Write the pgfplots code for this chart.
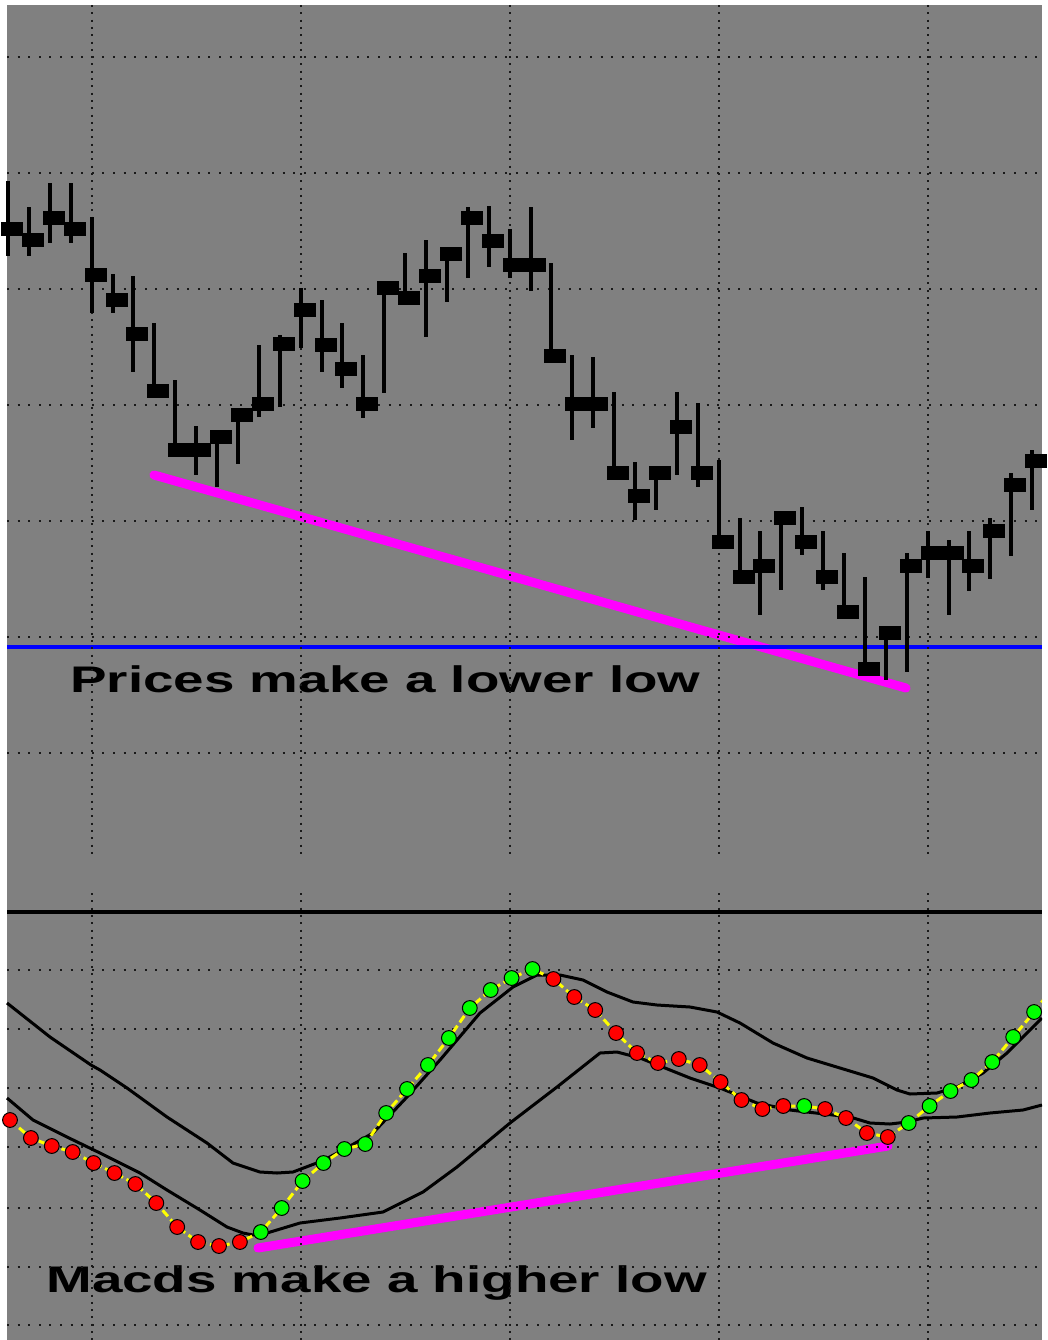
\documentclass[border=0pt]{standalone}
\usepackage{graphicx}
\usepackage{pgfplots}
\usepackage{pgfplotstable}
\pgfplotsset{compat=1.18}
\usepackage{fontspec}
\setmainfont{Liberation Sans}

% blob drawn at the close of each bar (offset right of the high-low line)
\pgfdeclareplotmark{blob}{%
  \pgfsetcornersarced{\pgfpoint{3pt}{3pt}}%
  \pgfpathrectanglecorners{\pgfpoint{-3.5pt}{-3.4pt}}{\pgfpoint{7.5pt}{3.4pt}}%
  \pgfusepathqfill}

\definecolor{bg}{RGB}{128,128,128}
\definecolor{mag}{RGB}{255,0,255}
\definecolor{blu}{RGB}{0,0,255}
\definecolor{yel}{RGB}{255,255,0}
\definecolor{grn}{RGB}{0,255,0}
\definecolor{rd}{RGB}{255,0,0}

% price bars, in screen rows (top = small)
\pgfplotstableread{
i hi lo c
0 181 256 229
1 207 256 240
2 183 243 218
3 183 243 229
4 217 313 275
5 274 313 300
6 276 372 334
7 323 392 391
8 380 450 450
9 426 475 450
10 435 487 437
11 410 464 415
12 345 417 404
13 335 407 344
14 288 348 310
15 300 372 345
16 323 388 369
17 355 418 404
18 282 393 288
19 253 305 298
20 240 337 276
21 248 302 254
22 207 278 218
23 206 267 241
24 229 278 265
25 207 291 265
26 263 356 356
27 355 440 404
28 357 428 404
29 392 472 473
30 462 520 496
31 472 510 473
32 392 475 427
33 403 487 473
34 460 540 542
35 518 582 577
36 531 615 566
37 513 590 518
38 507 555 542
39 531 590 577
40 553 612 612
41 577 670 669
42 627 680 633
43 553 672 566
44 531 578 553
45 540 615 553
46 531 591 566
47 518 579 531
48 473 556 485
49 450 510 461
}\bars

% macd histogram dots: r = falling, g = rising
\pgfplotstableread{
i y k
0 1120 r
1 1138 r
2 1146 r
3 1152 r
4 1163 r
5 1173 r
6 1184 r
7 1203 r
8 1227 r
9 1242 r
10 1246 r
11 1242 r
12 1232 g
13 1208 g
14 1181 g
15 1163 g
16 1149 g
17 1144 g
18 1113 g
19 1089 g
20 1065 g
21 1038 g
22 1008 g
23 990 g
24 978 g
25 969 g
26 979 r
27 997 r
28 1010 r
29 1033 r
30 1053 r
31 1063 r
32 1059 r
33 1065 r
34 1082 r
35 1100 r
36 1109 r
37 1106 r
38 1106 g
39 1109 r
40 1118 r
41 1133 r
42 1137 r
43 1123 g
44 1106 g
45 1091 g
46 1080 g
47 1062 g
48 1037 g
49 1012 g
}\macd

\begin{document}
\begin{tikzpicture}
\begin{axis}[
  scale only axis, width=521pt, height=670pt,
  xmin=0, xmax=1042, ymin=0, ymax=1340, y dir=reverse,
  axis lines=none, ticks=none,
  hgrid/.style={black!90, line width=1pt, dash pattern=on 1pt off 4.3pt},
  vgrid/.style={black!90, line width=1pt, dash pattern=on 1pt off 2.65pt},
]
% background
\fill[white] (axis cs:0,0) rectangle (axis cs:1042,1340);
\fill[bg] (axis cs:7,5) rectangle (axis cs:1042,1340);

% captions (grid dots sit on top of them)
\node[anchor=base west, inner sep=0pt] at (axis cs:70,692)
  {\scalebox{1.48}[1]{\fontsize{18.5pt}{20pt}\selectfont\bfseries Prices make a lower low}};
\node[anchor=base west, inner sep=0pt] at (axis cs:46,1292)
  {\scalebox{1.48}[1]{\fontsize{18.5pt}{20pt}\selectfont\bfseries Macds make a higher low}};

% trend lines
\addplot[mag, line width=4.5pt, line cap=round] coordinates {(154,475) (906,688)};
\addplot[mag, line width=4.5pt, line cap=round] coordinates {(258,1248) (888,1146)};
\addplot[blu, line width=2.2pt] coordinates {(7,647) (1042,647)};

% grid
\pgfplotsinvokeforeach{57,173,289,405,521,637,753,970,1029,1088,1147,1208,1267,1325}{
  \addplot[hgrid] coordinates {(7,#1) (1042,#1)};
}
\pgfplotsinvokeforeach{91.6,300.6,509.6,718.6,927.6}{
  \addplot[vgrid] coordinates {(#1,5) (#1,858)};
  \addplot[vgrid] coordinates {(#1,893) (#1,1340)};
}

% panel separator
\addplot[black, line width=2pt] coordinates {(7,912) (1042,912)};

% price bars
\addplot[draw=none, mark=none, error bars/.cd, y dir=both, y explicit, error mark=none,
  error bar style={draw=black, line width=2pt}]
  table[x expr=8+20.9*\thisrow{i}, y=c,
        y error minus expr=\thisrow{c}-\thisrow{hi},
        y error plus expr=\thisrow{lo}-\thisrow{c}] {\bars};
\addplot[only marks, mark=blob, black] table[x expr=8+20.9*\thisrow{i}, y=c] {\bars};

% macd lines
\addplot[black, line width=1.5pt, line join=round] coordinates {
(7,1003)(50,1037)(91,1065)(100,1070)(127,1088)(167,1117)(207,1143)(233,1163)(260,1172)
(277,1173)(293,1172)(322,1161)(343,1150)(373,1133)(407,1097)(440,1060)(480,1013)(513,987)
(537,975)(560,975)(583,980)(607,992)(633,1002)(657,1005)(690,1007)(717,1012)(740,1023)
(773,1043)(807,1058)(840,1068)(873,1078)(897,1090)(910,1094)(937,1093)(957,1087)
(983,1073)(1007,1053)(1042,1018)};
\addplot[black, line width=1.5pt, line join=round] coordinates {
(7,1098)(33,1120)(67,1137)(100,1153)(140,1173)(167,1190)(200,1210)(227,1227)(243,1233)
(253,1235)(267,1233)(300,1223)(340,1218)(383,1212)(423,1192)(457,1167)(510,1123)(557,1087)
(600,1053)(617,1052)(640,1058)(690,1078)(720,1088)(757,1103)(790,1110)(850,1117)(870,1123)
(890,1124)(907,1122)(923,1118)(957,1117)(990,1113)(1023,1110)(1042,1105)};

% macd dots joined by a dashed yellow line
\addplot[yel, line width=1.5pt, dash pattern=on 4pt off 2pt]
  table[x expr=10+20.9*\thisrow{i}, y=y] {\macd};
\addplot[yel, line width=1.5pt, dash pattern=on 4pt off 2pt] coordinates {(1034,1012) (1055,985)};
\addplot[scatter, only marks, mark=*, mark size=3.7pt,
  scatter src=explicit symbolic,
  scatter/classes={
    r={mark=*, draw=black, fill=rd, line width=0.5pt},
    g={mark=*, draw=black, fill=grn, line width=0.5pt}}]
  table[x expr=10+20.9*\thisrow{i}, y=y, meta=k] {\macd};
\end{axis}
\end{tikzpicture}
\end{document}
